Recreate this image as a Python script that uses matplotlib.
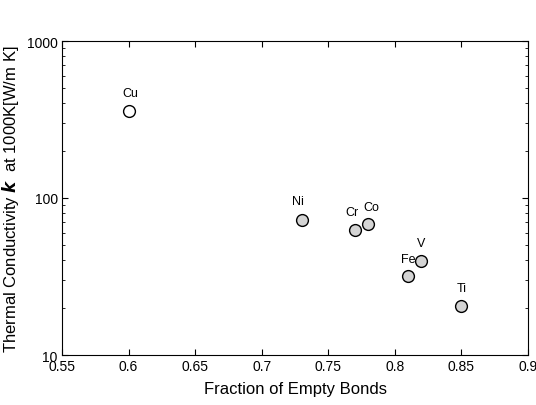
import numpy as np
import matplotlib
matplotlib.use("Agg")
import matplotlib.pyplot as plt
from matplotlib.ticker import FixedLocator, FixedFormatter, LogLocator, NullFormatter

plt.rcParams['font.family'] = ['Liberation Sans', 'DejaVu Sans']

# --------------------- DATA ---------------------

metals = ["Cu", "Ni", "Cr", "Co", "V", "Fe", "Ti"]
empty_bonds = [0.60, 0.73, 0.77, 0.78, 0.82, 0.81, 0.85]
conductivity = [358, 72, 63, 68, 39.5, 32, 20.5]

x_ticks = [0.55, 0.6, 0.65, 0.7, 0.75, 0.8, 0.85, 0.9]
x_tick_labels = ["0.55", "0.6", "0.65", "0.7", "0.75", "0.8", "0.85", "0.9"]
y_ticks = [10, 100, 1000]
y_tick_labels = ["10", "100", "1000"]

# label offsets in points (dx, dy)
offsets = {"Cu": (1, 9), "Ni": (-3, 10), "Cr": (-2, 8), "Co": (2, 8),
           "V": (0, 9), "Fe": (0, 8), "Ti": (0, 9)}

# --------------------- PLOT ---------------------

fig = plt.figure(figsize=(5.36, 4.06), dpi=100)
ax = fig.add_axes([62 / 536, 1 - 356 / 406, 466 / 536, 314 / 406])

for name, x, y in zip(metals, empty_bonds, conductivity):
    face = "white" if name == "Cu" else "#d4d4d4"
    ax.plot(x, y, "o", ms=8.5, mfc=face, mec="black", mew=1.0)
    dx, dy = offsets[name]
    ax.annotate(name, (x, y), xytext=(dx, dy), textcoords="offset points",
                ha="center", va="bottom", fontsize=9)

ax.set_yscale("log")
ax.set_xlim(0.55, 0.9)
ax.set_ylim(10, 1000)

ax.xaxis.set_major_locator(FixedLocator(x_ticks))
ax.xaxis.set_major_formatter(FixedFormatter(x_tick_labels))
ax.yaxis.set_major_locator(FixedLocator(y_ticks))
ax.yaxis.set_major_formatter(FixedFormatter(y_tick_labels))
ax.yaxis.set_minor_locator(LogLocator(base=10, subs=np.arange(2, 10)))
ax.yaxis.set_minor_formatter(NullFormatter())

ax.tick_params(which="both", direction="in", top=True, right=True,
               labelsize=10, pad=3)
ax.tick_params(which="major", length=4)
ax.tick_params(which="minor", length=2)

ax.set_xlabel("Fraction of Empty Bonds", fontsize=12, labelpad=6)
ax.set_ylabel(r"Thermal Conductivity $\boldsymbol{k}$  at 1000K[W/m K]",
              fontsize=12, labelpad=4)

fig.savefig("out.png", dpi=100)
